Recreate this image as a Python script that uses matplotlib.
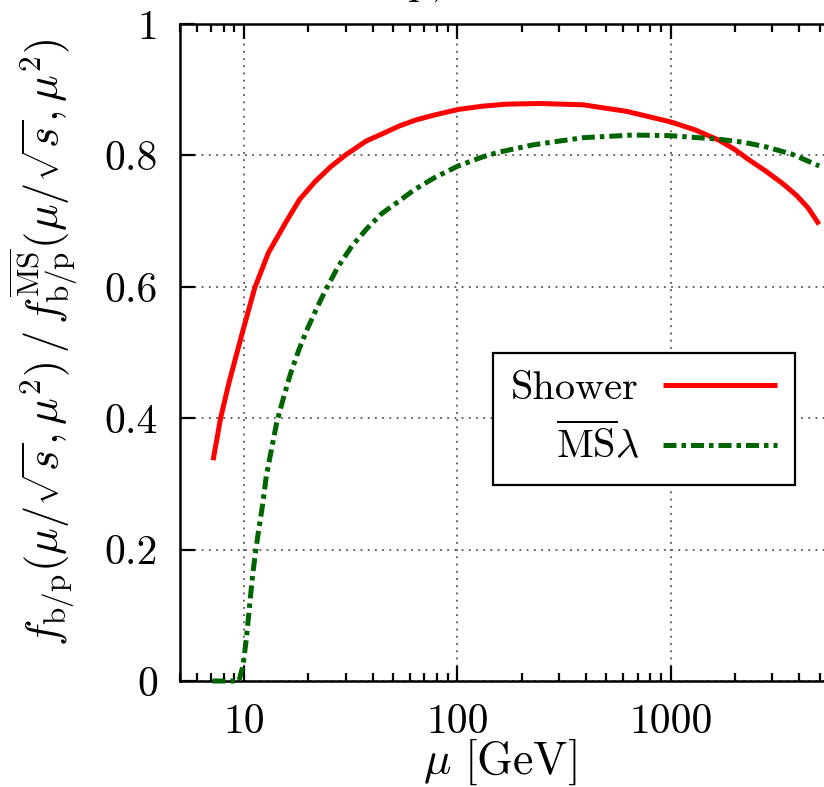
import matplotlib
matplotlib.use("Agg")
import matplotlib.pyplot as plt
from matplotlib.ticker import FixedLocator, FixedFormatter, NullFormatter

plt.rcParams["font.family"] = "serif"
plt.rcParams["font.serif"] = ["cmr10", "DejaVu Serif"]
plt.rcParams["mathtext.fontset"] = "cm"
plt.rcParams["axes.formatter.use_mathtext"] = True

# Ratio of the shower-evolved b density to the MS-bar one
shower_mu = [7.15, 7.75, 8.5, 9.8, 11.2, 13.0, 15.8, 18.2, 21.5, 25.5, 30.0,
             37.4, 43.2, 53.6, 64, 77, 101, 132, 170, 244, 389, 623, 1000,
             1300, 1690, 2000, 2340, 2800, 3360, 3900, 4420, 4970]
shower_val = [0.336, 0.40, 0.455, 0.530, 0.598, 0.652, 0.700, 0.733, 0.760,
              0.783, 0.801, 0.822, 0.831, 0.845, 0.854, 0.861, 0.870, 0.875,
              0.878, 0.879, 0.877, 0.867, 0.851, 0.839, 0.823, 0.809, 0.793,
              0.776, 0.757, 0.739, 0.720, 0.695]

msbar_mu = [7.1, 9.45, 9.88, 10.25, 10.7, 11.0, 11.4, 11.7, 12.2, 12.7, 14.2,
            15.2, 16.5, 18.0, 19.6, 21.8, 24.0, 27.5, 32.0, 38, 44, 53, 63,
            78, 101, 132, 157, 226, 389, 668, 1000, 1640, 2200, 2800, 3700,
            4980]
msbar_val = [0.0, 0.0, 0.024, 0.066, 0.128, 0.166, 0.205, 0.230, 0.268,
             0.312, 0.393, 0.428, 0.468, 0.503, 0.533, 0.566, 0.594, 0.630,
             0.662, 0.690, 0.711, 0.730, 0.748, 0.766, 0.784, 0.798, 0.805,
             0.816, 0.827, 0.831, 0.830, 0.825, 0.820, 0.813, 0.802, 0.784]

x_ticks = [10, 100, 1000]
x_ticklabels = ["10", "100", "1000"]
y_ticks = [0, 0.2, 0.4, 0.6, 0.8, 1]
y_ticklabels = ["0", "0.2", "0.4", "0.6", "0.8", "1"]

W, H = 824, 787
fig = plt.figure(figsize=(W / 100, H / 100), dpi=100)
ax = fig.add_axes([180 / W, 1 - 681 / H, 644 / W, 657 / H])

ax.set_xscale("log")
ax.set_xlim(5, 5244)
ax.set_ylim(0, 1)

ax.plot(shower_mu, shower_val, color="#ff0000", lw=3.6, label="Shower",
        clip_on=False, zorder=5, solid_capstyle="butt",
        solid_joinstyle="round")
ax.plot(msbar_mu, msbar_val, color="#006400", lw=3.6,
        linestyle=(0, (2.6, 1.0, 0.9, 1.0)), dash_capstyle="butt",
        label=r"$\overline{\rm MS}\lambda$", clip_on=False, zorder=5)

ax.xaxis.set_major_locator(FixedLocator(x_ticks))
ax.xaxis.set_major_formatter(FixedFormatter(x_ticklabels))
ax.xaxis.set_minor_formatter(NullFormatter())
ax.yaxis.set_major_locator(FixedLocator(y_ticks))
ax.yaxis.set_major_formatter(FixedFormatter(y_ticklabels))

ax.tick_params(which="both", direction="in", top=True, right=False,
               labelsize=30, width=1.6, colors="black")
ax.tick_params(which="major", length=11, pad=16)
ax.tick_params(which="minor", length=6)
ax.tick_params(axis="y", which="minor", left=False)

for side in ("left", "bottom", "top"):
    ax.spines[side].set_linewidth(1.8)
ax.spines["right"].set_visible(False)

ax.grid(True, which="major", color="#555555", linestyle=(0, (1, 3)), lw=1.3)

ax.set_xlabel(r"$\mu\ [{\rm GeV}]$", fontsize=33)
ax.xaxis.set_label_coords(0.497, -0.084)
ax.set_ylabel(r"$f_{\rm b/p}(\mu/\sqrt{s},\mu^2)\,/\,f^{\overline{\rm MS}}_{\rm b/p}(\mu/\sqrt{s},\mu^2)$",
              fontsize=32)
ax.yaxis.set_label_coords(-0.153, 0.516)

leg = ax.legend(loc="upper left", bbox_to_anchor=((493 - 180) / 644, (681 - 353) / 657),
                borderaxespad=0, fontsize=29, markerfirst=False,
                handlelength=2.83, handletextpad=0.6, labelspacing=0.4,
                borderpad=0.45, fancybox=False, framealpha=1,
                edgecolor="black")
leg.get_frame().set_linewidth(1.6)

fig.text(322 / W, 1 + 6 / H, r"b in p, $\sqrt{s}$ = 14 TeV", fontsize=30,
         ha="left", va="baseline")

fig.savefig("out.png", dpi=100)
